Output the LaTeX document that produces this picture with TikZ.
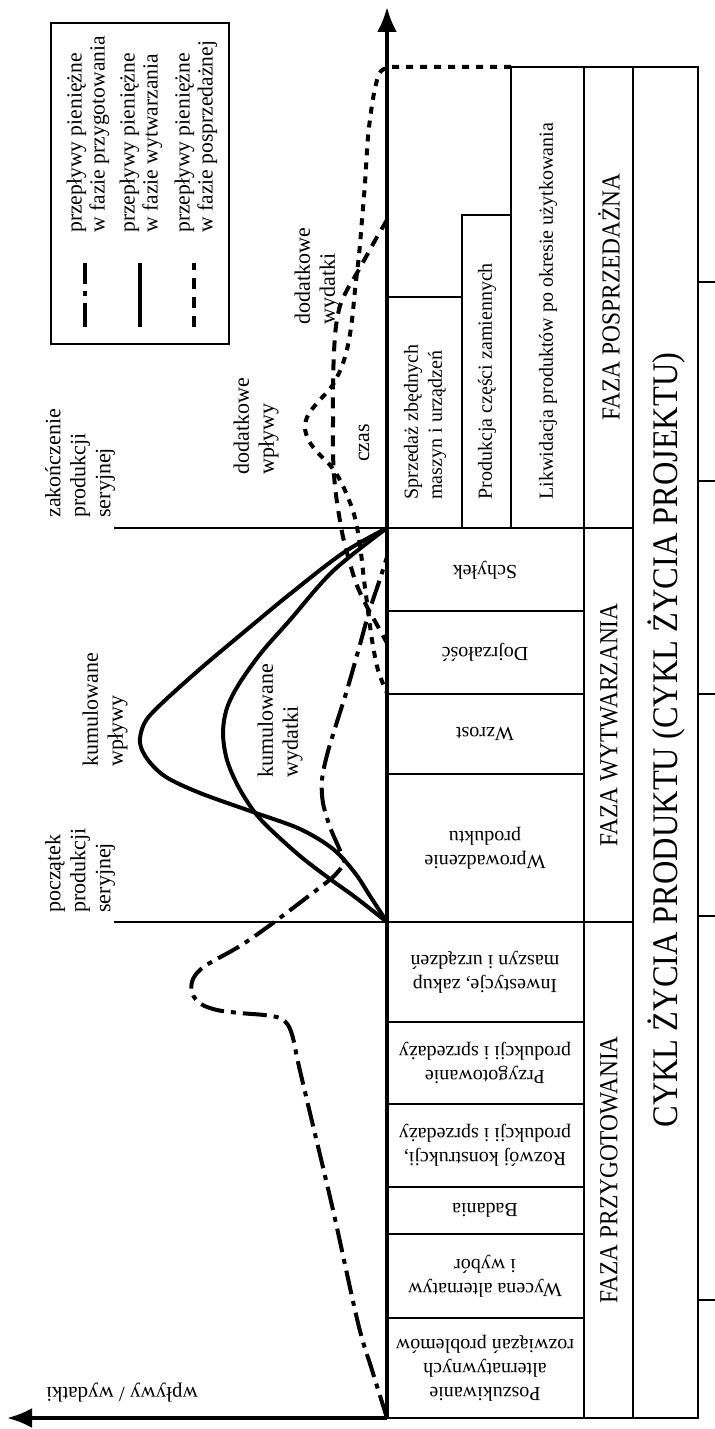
\documentclass[tikz,border=0pt]{standalone}
\usepackage{fontspec}
\setmainfont{Liberation Serif}
\newfontfamily\capsfont[FakeStretch=0.9]{Liberation Serif}
\usetikzlibrary{arrows.meta}

\tikzset{
  thin line/.style={line width=0.7pt},
  axis line/.style={line width=1.8pt, -{Latex[length=12.5pt,width=10pt]}},
  flow/.style={line width=2pt},
  prepflow/.style={flow, dash pattern=on 12pt off 3.5pt on 2.5pt off 3.5pt},
  prodflow/.style={flow},
  postflow/.style={flow, dash pattern=on 5.5pt off 4pt},
  postflowshort/.style={flow, dash pattern=on 3.5pt off 3.5pt},
  legtext/.style={font=\fontsize{10.8}{11.5}\selectfont, rotate=90, anchor=west, align=left, inner sep=0pt},
  lbl/.style={font=\fontsize{11}{12.5}\selectfont, rotate=90, anchor=west, align=left, inner sep=0pt},
  cellv/.style={font=\fontsize{10}{12}\selectfont, rotate=90, anchor=west, align=left, inner sep=0pt},
  cellu/.style={font=\fontsize{10}{12}\selectfont, rotate=180, align=center, inner sep=0pt},
  phase/.style={font=\capsfont\fontsize{13}{15}\selectfont, rotate=90, inner sep=0pt},
  cycle/.style={font=\capsfont\fontsize{18}{20}\selectfont, rotate=90, inner sep=0pt},
}

\begin{document}
\begin{tikzpicture}[x=0.5pt, y=-0.5pt]
\useasboundingbox (0,0) rectangle (715,1429);

% --- axes ---
\coordinate (O) at (387,1418);
\coordinate (ytip) at (387,7);
\coordinate (xtip) at (7,1418);
\draw[axis line] (O) -- (ytip);
\draw[axis line] (O) -- (xtip);
\node[font=\fontsize{10.5}{12}\selectfont, rotate=180, inner sep=0pt] (axlabel) at (122,1393) {wpływy / wydatki};
\node[font=\fontsize{11}{12}\selectfont, rotate=90, inner sep=0pt] (czas) at (364,443) {czas};

% --- phase table ---
\draw[thin line] (387,1418) -- (698,1418) -- (698,67) -- (511,67) -- (511,528);
\draw[thin line] (633,67) -- (633,1418);
\draw[thin line] (584,67) -- (584,1418);
\draw[thin line] (387,297) -- (462,297);
\draw[thin line] (462,528) -- (462,215) -- (511,215);
\draw[thin line] (114,528) -- (633,528);
\draw[thin line] (114,922) -- (633,922);
\foreach \yy in {611,694,774,1022,1104,1187,1234,1318}
  \draw[thin line] (387,\yy) -- (584,\yy);
\foreach \yy in {282,481,694,916,1300}
  \draw[thin line] (698,\yy) -- (715,\yy);

% post-sales activities
\node[cellv] (sprzedaz) at (425,500) {Sprzedaż zbędnych\\maszyn i urządzeń};
\node[cellv] (czesci) at (487,500) {Produkcja części zamiennych};
\node[cellv] (likwidacja) at (548,500) {Likwidacja produktów po okresie użytkowania};

% production activities
\node[cellu] (schylek) at (485,570) {Schyłek};
\node[cellu] (dojrzalosc) at (485,652) {Dojrzałość};
\node[cellu] (wzrost) at (485,734) {Wzrost};
\node[cellu] (wprowadzenie) at (485,848) {Wprowadzenie\\produktu};

% preparation activities
\node[cellu] (inwestycje) at (485,972) {Inwestycje, zakup\\maszyn i urządzeń};
\node[cellu] (przygotowanie) at (485,1063) {Przygotowanie\\produkcji i sprzedaży};
\node[cellu] (rozwoj) at (485,1145) {Rozwój konstrukcji,\\produkcji i sprzedaży};
\node[cellu] (badania) at (485,1210) {Badania};
\node[cellu] (wycena) at (485,1276) {Wycena alternatyw\\i wybór};
\node[cellu] (poszukiwanie) at (485,1368) {Poszukiwanie\\alternatywnych\\rozwiązań problemów};

% phases and whole cycle
\node[phase] (fpos) at (609,297) {FAZA POSPRZEDAŻNA};
\node[phase] (fwyt) at (609,725) {FAZA WYTWARZANIA};
\node[phase] (fprz) at (609,1170) {FAZA PRZYGOTOWANIA};
\node[cycle] (cykl) at (666,740) {CYKL ŻYCIA PRODUKTU (CYKL ŻYCIA PROJEKTU)};

% --- milestone labels ---
\node[lbl] (zakonczenie) at (80,518) {zakończenie\\produkcji\\seryjnej};
\node[lbl] (poczatek) at (80,913) {początek\\produkcji\\seryjnej};
\node[lbl] (dwplywy) at (256,475) {dodatkowe\\wpływy};
\node[lbl] (dwydatki) at (317,325) {dodatkowe\\wydatki};
\node[lbl] (kwplywy) at (105,767) {kumulowane\\wpływy};
\node[lbl] (kwydatki) at (280,778) {kumulowane\\wydatki};

% --- cash flow curves ---
% preparation phase
\draw[prepflow] plot[smooth, tension=0.55] coordinates {
  (387,1418) (372,1370) (358,1323) (333,1210) (310,1113) (298,1062)
  (293,1038) (288,1025) (280,1018) (264,1015) (240,1013) (217,1010)
  (201,1004) (192,993) (193,979) (205,966) (240,946) (273,923)
  (310,895) (333,877) (345,863)}
  -- plot[smooth, tension=0.55] coordinates {
  (345,863) (339,848) (330,827) (323,803) (322,780) (327,755)
  (336,725) (347,690) (359,648) (369,612) (379,582) (387,557)};

% production phase: cumulative inflows
\draw[prodflow] plot[smooth, tension=0.55] coordinates {
  (387,922) (370,896) (355,873) (333,849) (300,829) (253,812)
  (200,793) (166,777) (148,760) (140,743) (144,724) (158,707)
  (200,669) (250,627) (290,594) (343,553) (387,528)};

% production phase: cumulative outflows
\draw[prodflow] plot[smooth, tension=0.55] coordinates {
  (387,922) (355,897) (330,879) (300,856) (268,827) (253,810)
  (238,786) (227,760) (223,733) (227,708) (239,684) (261,653)
  (290,620) (333,571) (387,528)};

% post-sales phase: additional outflows
\draw[postflow] plot[smooth, tension=0.55] coordinates {
  (387,220) (377,237) (367,255) (357,273) (347,290) (340,306)
  (336,326) (334,352) (333,385) (333,420) (333,452) (334,475)
  (336,495) (339,515) (343,537) (349,560) (356,583) (365,603)
  (376,623) (387,643)};

% post-sales phase: additional inflows
\draw[postflowshort] (511,67) -- plot[smooth, tension=0.55] coordinates {
  (391,67) (381,71) (376,84) (372,105) (368,137) (365,183) (362,220)
  (359,255) (355,290) (352,320) (348,345) (342,366) (332,386)
  (318,402) (308,415) (305,428) (309,441) (318,453) (330,465)
  (340,480) (349,500) (355,518) (360,545) (364,580) (368,610)
  (372,640) (378,670) (387,693)};

% --- legend ---
\draw[thin line] (51,23) rectangle (229,344);
\coordinate (lg1a) at (85,327);  \coordinate (lg1b) at (85,263);
\coordinate (lg2a) at (140,327); \coordinate (lg2b) at (140,263);
\coordinate (lg3a) at (194,327); \coordinate (lg3b) at (194,263);
\draw[prepflow] (lg1a) -- (lg1b);
\draw[prodflow] (lg2a) -- (lg2b);
\draw[postflow] (lg3a) -- (lg3b);
\node[legtext] (lgt1) at (88,233) {przepływy pieniężne\\w fazie przygotowania};
\node[legtext] (lgt2) at (141,233) {przepływy pieniężne\\w fazie wytwarzania};
\node[legtext] (lgt3) at (196,233) {przepływy pieniężne\\w fazie posprzedażnej};
\end{tikzpicture}
\end{document}
